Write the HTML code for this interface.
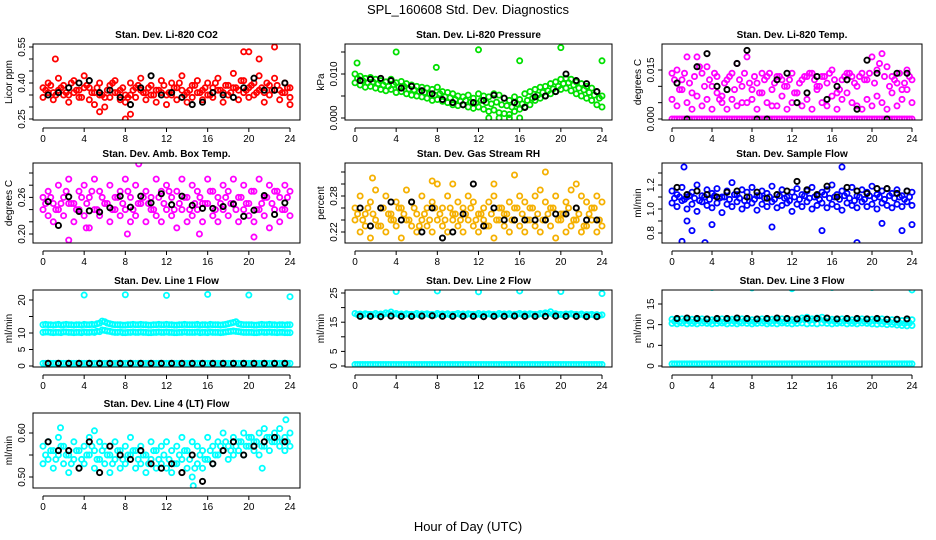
<!DOCTYPE html>
<html><head><meta charset="utf-8"><style>
html,body{margin:0;padding:0;background:#fff;}
svg{display:block;font-family:"Liberation Sans",sans-serif;}
</style></head><body>
<svg id="chart" width="936" height="540" viewBox="0 0 936 540" xmlns="http://www.w3.org/2000/svg">
<rect width="936" height="540" fill="#fff"/>
<text x="468" y="14" text-anchor="middle" font-size="13">SPL_160608  Std. Dev. Diagnostics</text>
<text x="468" y="531" text-anchor="middle" font-size="13">Hour of Day (UTC)</text>
</svg>
<script>
const hoursHalf=[0,0.5,1,1.5,2,2.5,3,3.5,4,4.5,5,5.5,6,6.5,7,7.5,8,8.5,9,9.5,10,10.5,11,11.5,12,12.5,13,13.5,14,14.5,15,15.5,16,16.5,17,17.5,18,18.5,19,19.5,20,20.5,21,21.5,22,22.5,23,23.5,24];
const hoursOff=[0.25,0.75,1.25,1.75,2.25,2.75,3.25,3.75,4.25,4.75,5.25,5.75,6.25,6.75,7.25,7.75,8.25,8.75,9.25,9.75,10.25,10.75,11.25,11.75,12.25,12.75,13.25,13.75,14.25,14.75,15.25,15.75,16.25,16.75,17.25,17.75,18.25,18.75,19.25,19.75,20.25,20.75,21.25,21.75,22.25,22.75,23.25,23.75];
const hoursBlack=[0.5,1.5,2.5,3.5,4.5,5.5,6.5,7.5,8.5,9.5,10.5,11.5,12.5,13.5,14.5,15.5,16.5,17.5,18.5,19.5,20.5,21.5,22.5,23.5];
const outHours=[4,8,12,16,20,24];
const xTicks=[0,4,8,12,16,20,24];

const co2Hi=[.38,.40,.36,.42,.39,.35,.41,.37,.43,.38,.36,.40,.34,.39,.41,.37,.35,.40,.38,.42,.36,.39,.37,.41,.35,.40,.38,.43,.36,.39,.41,.37,.40,.38,.42,.36,.39,.44,.37,.41,.38,.40,.43,.36,.39,.42,.37,.40,.38];
const co2Lo=[.34,.36,.33,.37,.35,.32,.36,.34,.38,.33,.31,.35,.30,.34,.36,.33,.32,.35,.34,.37,.33,.35,.32,.36,.31,.35,.33,.37,.32,.34,.36,.33,.35,.34,.37,.32,.35,.38,.33,.36,.34,.35,.37,.32,.35,.37,.33,.36,.34];
const co2Mid=[.37,.39,.35,.38,.36,.40,.37,.34,.39,.36,.38,.35,.37,.40,.36,.38,.34,.37,.39,.36,.38,.35,.37,.39,.36,.38,.40,.35,.37,.39,.36,.38,.35,.40,.37,.39,.36,.38,.41,.37,.39,.36,.38,.40,.37,.39,.36,.38];
const co2OutH=[1.2,5.5,8,8.5,19.5,20,21,22.5,24];
const co2OutV=[.50,.28,.25,.27,.53,.53,.50,.55,.31];
const co2Black=[.35,.36,.38,.40,.41,.36,.37,.34,.31,.38,.43,.35,.36,.34,.31,.32,.36,.35,.34,.38,.42,.37,.37,.40];

const presHi=[.0100,.0095,.0090,.0092,.0088,.0085,.0082,.0088,.0080,.0083,.0078,.0075,.0072,.0070,.0068,.0065,.0070,.0060,.0058,.0055,.0050,.0048,.0052,.0045,.0055,.0050,.0048,.0055,.0052,.0045,.0040,.0048,.0042,.0055,.0060,.0065,.0070,.0072,.0078,.0082,.0088,.0090,.0088,.0082,.0078,.0072,.0068,.0060,.0050];
const presLo=[.0080,.0075,.0070,.0072,.0068,.0065,.0062,.0065,.0058,.0060,.0055,.0052,.0050,.0048,.0045,.0040,.0042,.0038,.0035,.0030,.0028,.0030,.0025,.0022,.0025,.0020,.0015,.0018,.0012,.0010,.0008,.0015,.0020,.0025,.0030,.0040,.0045,.0050,.0055,.0060,.0065,.0068,.0062,.0055,.0050,.0045,.0040,.0030,.0025];
const presMid=[.0090,.0085,.0080,.0082,.0078,.0075,.0072,.0076,.0070,.0072,.0066,.0064,.0060,.0058,.0055,.0052,.0055,.0048,.0046,.0042,.0038,.0040,.0036,.0034,.0040,.0035,.0032,.0036,.0030,.0028,.0025,.0032,.0032,.0040,.0045,.0052,.0058,.0062,.0066,.0072,.0078,.0080,.0075,.0068,.0064,.0058,.0052,.0045];
const presOutH=[0.2,4,7.9,12,13,14,15,16,16,20,24];
const presOutV=[.0125,.0150,.0115,.0155,.0000,.0000,.0000,.0000,.0130,.0160,.0130];
const presBlack=[.0085,.0088,.0090,.0085,.0068,.0072,.0062,.0055,.0042,.0035,.0030,.0035,.0040,.0052,.0045,.0035,.0024,.0048,.0050,.0060,.0100,.0085,.0078,.0060];

const tempHi=[.014,.015,.012,.019,.008,.019,.014,.016,.010,.013,.007,.012,.014,.017,.005,.019,.009,.011,.014,.013,.004,.013,.012,.010,.014,.008,.012,.013,.014,.010,.013,.011,.015,.008,.012,.014,.013,.010,.014,.012,.019,.015,.020,.016,.013,.011,.009,.015,.012];
const tempLo=[.006,.004,.009,.005,.003,.007,.004,.006,.003,.008,.005,.003,.006,.004,.010,.005,.006,.003,.008,.005,.009,.004,.007,.003,.005,.008,.004,.006,.003,.009,.005,.004,.007,.003,.006,.008,.005,.004,.003,.006,.004,.007,.005,.003,.008,.004,.006,.009,.005];
const tempMid=[.012,.009,.014,.011,.013,.016,.010,.012,.014,.006,.011,.013,.009,.012,.014,.011,.013,.008,.012,.014,.011,.013,.010,.012,.008,.011,.013,.014,.012,.010,.013,.014,.012,.009,.013,.014,.011,.013,.012,.014,.011,.017,.013,.010,.012,.014,.011,.013];
const tempZero=[0,0,0,0,0,0,0,0,0,0,0,0,0,0,0,0,0,0,0,0,0,0,0,0,0,0,0,0,0,0,0,0,0,0,0,0,0,0,0,0,0,0,0,0,0,0,0,0,0];
const tempZeroOff=[0,0,0,0,0,0,0,0,0,0,0,0,0,0,0,0,0,0,0,0,0,0,0,0,0,0,0,0,0,0,0,0,0,0,0,0,0,0,0,0,0,0,0,0,0,0,0,0];
const tempBlack=[.011,0,.016,.020,.010,.009,.017,.021,0,0,.012,.014,.005,.008,.013,.006,.010,.012,.003,.018,.014,0,.014,.014];

const ambHi=[.26,.27,.25,.28,.26,.29,.25,.27,.28,.26,.29,.27,.25,.28,.26,.27,.29,.26,.28,.25,.27,.26,.29,.27,.28,.26,.27,.29,.26,.28,.27,.25,.29,.27,.26,.28,.27,.29,.26,.28,.25,.27,.29,.26,.28,.27,.26,.28,.27];
const ambLo=[.24,.23,.22,.24,.23,.25,.22,.24,.23,.21,.24,.23,.25,.22,.24,.23,.24,.22,.23,.25,.22,.24,.23,.22,.24,.23,.21,.24,.22,.23,.24,.22,.25,.23,.22,.24,.23,.25,.22,.24,.23,.22,.24,.23,.21,.24,.22,.24,.23];
const ambMid=[.25,.26,.24,.25,.27,.25,.24,.26,.25,.27,.24,.26,.25,.24,.26,.25,.27,.24,.25,.26,.25,.24,.26,.25,.27,.24,.25,.26,.24,.25,.26,.25,.27,.24,.25,.26,.25,.24,.26,.25,.27,.24,.25,.26,.25,.27,.24,.26];
const ambOutH=[2.5,4.2,8.2,9.3,20.5,15.2];
const ambOutV=[.19,.21,.20,.315,.195,.20];
const ambBlack=[.253,.214,.261,.237,.238,.236,.243,.262,.244,.262,.251,.266,.248,.262,.247,.242,.242,.245,.249,.229,.239,.263,.232,.251];

const rhHi=[.26,.28,.25,.27,.29,.26,.28,.25,.27,.26,.29,.27,.25,.28,.26,.27,.30,.26,.28,.25,.27,.26,.28,.27,.25,.26,.27,.28,.26,.25,.27,.26,.28,.27,.26,.28,.29,.27,.26,.28,.25,.27,.29,.26,.28,.27,.26,.28,.27];
const rhLo=[.24,.22,.23,.21,.24,.23,.22,.24,.23,.21,.24,.23,.22,.24,.23,.22,.24,.23,.22,.24,.23,.22,.24,.23,.22,.24,.23,.21,.24,.23,.22,.24,.23,.22,.24,.23,.22,.24,.23,.21,.24,.22,.23,.24,.22,.23,.24,.22,.23];
const rhMid=[.25,.24,.26,.25,.23,.26,.25,.24,.26,.25,.24,.26,.23,.25,.24,.26,.25,.24,.26,.25,.24,.25,.26,.24,.25,.23,.25,.24,.26,.25,.24,.26,.25,.24,.26,.25,.24,.25,.26,.24,.25,.26,.24,.25,.23,.25,.26,.24];
const rhOutH=[1.7,7.5,9.5,13.5,15.5,18.5,21.5];
const rhOutV=[.31,.305,.30,.30,.315,.32,.30];
const rhBlack=[.26,.23,.26,.27,.24,.27,.22,.26,.21,.22,.25,.30,.23,.26,.24,.24,.24,.24,.24,.25,.25,.26,.24,.24];

const sfHi=[1.15,1.12,1.18,1.10,1.14,1.20,1.11,1.16,1.13,1.17,1.10,1.15,1.22,1.12,1.16,1.14,1.18,1.11,1.15,1.13,1.19,1.12,1.16,1.10,1.14,1.17,1.12,1.15,1.18,1.11,1.14,1.16,1.20,1.12,1.15,1.13,1.18,1.11,1.16,1.14,1.19,1.12,1.15,1.17,1.13,1.16,1.11,1.15,1.14];
const sfLo=[1.05,1.02,1.07,1.00,1.04,0.98,1.06,1.03,1.01,1.05,0.97,1.04,1.02,1.06,1.00,1.03,1.05,0.99,1.04,1.02,1.06,1.01,1.03,1.05,0.98,1.04,1.02,1.06,1.00,1.03,1.05,1.01,1.04,1.02,0.99,1.05,1.03,1.01,1.06,1.02,1.04,1.00,1.05,1.03,1.01,1.04,1.02,1.06,1.03];
const sfMid=[1.09,1.10,1.08,1.11,1.09,1.07,1.10,1.08,1.11,1.09,1.10,1.08,1.12,1.09,1.07,1.10,1.08,1.11,1.09,1.10,1.08,1.11,1.09,1.07,1.10,1.08,1.11,1.09,1.10,1.08,1.12,1.09,1.10,1.08,1.11,1.09,1.07,1.10,1.08,1.11,1.09,1.10,1.08,1.11,1.09,1.10,1.08,1.10];
const sfOutH=[1,3.3,2,4,1.5,1.2,17,18.5,21,23,24,15,10];
const sfOutV=[0.73,0.72,0.82,0.87,0.90,1.35,1.35,0.72,0.88,0.82,0.87,0.82,0.85];
const sfBlack=[1.18,1.12,1.15,1.12,1.10,1.14,1.15,1.10,1.14,1.09,1.12,1.15,1.23,1.16,1.12,1.19,1.10,1.18,1.15,1.13,1.17,1.17,1.13,1.15];

const l1Hi=[12.5,12.5,12.4,12.6,12.5,12.5,12.4,12.5,12.6,12.5,12.5,13.0,13.4,12.8,12.5,12.5,12.4,12.5,12.5,12.6,12.5,12.4,12.5,12.5,12.6,12.5,12.4,12.5,12.5,12.5,12.6,12.5,12.4,12.5,12.5,12.5,12.8,13.2,12.8,12.5,12.5,12.4,12.5,12.5,12.6,12.5,12.5,12.4,12.5];
const l1HiOff=[12.6,12.5,12.5,12.4,12.6,12.5,12.5,12.4,12.5,12.6,12.8,13.6,13.0,12.6,12.5,12.4,12.5,12.6,12.5,12.5,12.4,12.5,12.6,12.5,12.5,12.4,12.5,12.6,12.5,12.5,12.4,12.5,12.6,12.5,12.4,12.6,13.0,13.4,12.6,12.5,12.5,12.4,12.6,12.5,12.5,12.4,12.5,12.5];
const l1Lo=[10.2,10.3,10.1,10.2,10.3,10.2,10.1,10.2,10.3,10.2,10.2,10.4,10.8,10.5,10.2,10.3,10.1,10.2,10.2,10.3,10.2,10.1,10.2,10.2,10.3,10.2,10.1,10.2,10.2,10.2,10.3,10.2,10.1,10.2,10.2,10.2,10.4,10.6,10.4,10.2,10.2,10.1,10.2,10.2,10.3,10.2,10.2,10.1,10.1];
const l1LoOff=[10.3,10.2,10.2,10.1,10.3,10.2,10.2,10.1,10.2,10.3,10.5,10.9,10.6,10.3,10.2,10.1,10.2,10.3,10.2,10.2,10.1,10.2,10.3,10.2,10.2,10.1,10.2,10.3,10.2,10.2,10.1,10.2,10.3,10.2,10.1,10.3,10.5,10.5,10.3,10.2,10.2,10.1,10.3,10.2,10.2,10.1,10.2,10.1];
const l1Zero=[0.8,0.8,0.8,0.8,0.8,0.8,0.8,0.8,0.8,0.8,0.8,0.8,0.8,0.8,0.8,0.8,0.8,0.8,0.8,0.8,0.8,0.8,0.8,0.8,0.8,0.8,0.8,0.8,0.8,0.8,0.8,0.8,0.8,0.8,0.8,0.8,0.8,0.8,0.8,0.8,0.8,0.8,0.8,0.8,0.8,0.8,0.8,0.8,0.8];
const l1ZeroOff=[0.8,0.8,0.8,0.8,0.8,0.8,0.8,0.8,0.8,0.8,0.8,0.8,0.8,0.8,0.8,0.8,0.8,0.8,0.8,0.8,0.8,0.8,0.8,0.8,0.8,0.8,0.8,0.8,0.8,0.8,0.8,0.8,0.8,0.8,0.8,0.8,0.8,0.8,0.8,0.8,0.8,0.8,0.8,0.8,0.8,0.8,0.8,0.8];
const l1Black=[0.8,0.8,0.8,0.8,0.8,0.8,0.8,0.8,0.8,0.8,0.8,0.8,0.8,0.8,0.8,0.8,0.8,0.8,0.8,0.8,0.8,0.8,0.8,0.8];
const l1Out=[21.5,21.6,21.4,21.7,21.5,21.0];

const l2Hi=[18.0,17.8,17.9,17.7,18.0,17.8,18.2,18.5,18.0,17.8,17.9,17.7,18.0,17.8,17.9,17.7,18.0,17.8,17.9,17.7,18.0,17.8,17.9,17.7,18.0,17.8,17.9,17.7,18.0,17.8,17.9,17.7,18.0,17.8,17.9,17.7,18.0,18.2,18.6,17.9,17.7,17.8,17.9,17.7,17.8,17.6,17.7,17.6,17.5];
const l2HiOff=[17.6,17.5,17.7,17.6,17.5,17.7,17.9,17.8,17.6,17.5,17.7,17.6,17.5,17.7,17.6,17.5,17.7,17.6,17.5,17.7,17.6,17.5,17.7,17.6,17.5,17.7,17.6,17.5,17.7,17.6,17.5,17.7,17.6,17.5,17.7,17.6,17.8,18.0,17.7,17.6,17.5,17.7,17.6,17.5,17.4,17.5,17.4,17.3];
const l2Zero=[0.5,0.5,0.5,0.5,0.5,0.5,0.5,0.5,0.5,0.5,0.5,0.5,0.5,0.5,0.5,0.5,0.5,0.5,0.5,0.5,0.5,0.5,0.5,0.5,0.5,0.5,0.5,0.5,0.5,0.5,0.5,0.5,0.5,0.5,0.5,0.5,0.5,0.5,0.5,0.5,0.5,0.5,0.5,0.5,0.5,0.5,0.5,0.5,0.5];
const l2ZeroOff=[0.5,0.5,0.5,0.5,0.5,0.5,0.5,0.5,0.5,0.5,0.5,0.5,0.5,0.5,0.5,0.5,0.5,0.5,0.5,0.5,0.5,0.5,0.5,0.5,0.5,0.5,0.5,0.5,0.5,0.5,0.5,0.5,0.5,0.5,0.5,0.5,0.5,0.5,0.5,0.5,0.5,0.5,0.5,0.5,0.5,0.5,0.5,0.5];
const l2Black=[17.0,17.0,16.9,17.1,17.0,17.0,17.1,17.2,17.0,17.0,17.0,17.0,16.9,17.0,17.0,17.1,17.0,17.0,17.0,17.1,17.0,17.0,16.9,16.9];
const l2Out=[25.5,25.7,25.4,25.7,25.5,24.8];

const l3Hi=[11.3,11.2,11.4,11.2,11.3,11.2,11.4,11.3,11.2,11.3,11.4,11.2,11.3,11.2,11.4,11.3,11.2,11.3,11.4,11.2,11.3,11.2,11.4,11.3,11.2,11.3,11.6,11.8,11.4,11.6,11.8,11.5,11.3,11.2,11.4,11.3,11.2,11.3,11.4,11.2,11.3,11.2,11.4,11.3,11.2,11.1,11.0,11.0,11.2];
const l3Lo=[10.3,10.2,10.4,10.2,10.3,10.2,10.4,10.3,10.2,10.3,10.4,10.2,10.3,10.2,10.4,10.3,10.2,10.3,10.4,10.2,10.3,10.2,10.4,10.3,10.2,10.3,10.4,10.2,10.3,10.2,10.4,10.3,10.2,10.3,10.4,10.2,10.3,10.2,10.4,10.3,10.2,10.1,10.2,10.0,10.1,9.9,9.8,9.7,9.8];
const l3HiOff=[10.8,10.7,10.9,10.8,10.7,10.9,10.8,10.7,10.9,10.8,10.7,10.9,10.8,10.7,10.9,10.8,10.7,10.9,10.8,10.7,10.9,10.8,10.7,10.9,10.8,11.0,11.2,11.0,11.1,11.3,11.0,10.9,10.8,10.7,10.9,10.8,10.7,10.9,10.8,10.7,10.9,10.8,10.7,10.6,10.5,10.4,10.3,10.4];
const l3Zero=[0.5,0.5,0.5,0.5,0.5,0.5,0.5,0.5,0.5,0.5,0.5,0.5,0.5,0.5,0.5,0.5,0.5,0.5,0.5,0.5,0.5,0.5,0.5,0.5,0.5,0.5,0.5,0.5,0.5,0.5,0.5,0.5,0.5,0.5,0.5,0.5,0.5,0.5,0.5,0.5,0.5,0.5,0.5,0.5,0.5,0.5,0.5,0.5,0.5];
const l3ZeroOff=[0.5,0.5,0.5,0.5,0.5,0.5,0.5,0.5,0.5,0.5,0.5,0.5,0.5,0.5,0.5,0.5,0.5,0.5,0.5,0.5,0.5,0.5,0.5,0.5,0.5,0.5,0.5,0.5,0.5,0.5,0.5,0.5,0.5,0.5,0.5,0.5,0.5,0.5,0.5,0.5,0.5,0.5,0.5,0.5,0.5,0.5,0.5,0.5];
const l3Black=[11.5,11.6,11.5,11.4,11.5,11.5,11.6,11.5,11.4,11.5,11.6,11.5,11.4,11.5,11.5,11.6,11.4,11.5,11.5,11.4,11.5,11.3,11.3,11.4];
const l3Out=[19.0,18.9,18.7,19.0,19.0,18.4];

const l4Hi=[.57,.58,.56,.59,.57,.55,.58,.56,.57,.59,.56,.58,.57,.55,.58,.56,.57,.59,.56,.57,.55,.58,.56,.57,.58,.56,.57,.59,.56,.58,.57,.56,.59,.57,.58,.60,.57,.59,.58,.60,.59,.58,.60,.61,.59,.60,.61,.59,.60];
const l4Lo=[.53,.54,.52,.55,.53,.51,.54,.52,.53,.55,.52,.54,.53,.51,.54,.52,.53,.55,.52,.53,.51,.54,.52,.53,.52,.51,.53,.54,.52,.50,.53,.52,.54,.53,.55,.56,.54,.55,.56,.55,.57,.56,.55,.57,.56,.58,.57,.56,.57];
const l4Mid=[.55,.56,.54,.57,.55,.53,.56,.54,.55,.57,.54,.56,.55,.53,.56,.54,.55,.56,.54,.55,.53,.56,.54,.55,.54,.53,.55,.56,.54,.52,.55,.54,.56,.55,.57,.58,.56,.57,.58,.57,.59,.58,.57,.59,.58,.59,.58,.58];
const l4OutH=[1.7,5,14.6,21.3,23.6];
const l4OutV=[.612,.605,.48,.52,.63];
const l4Black=[.58,.56,.56,.52,.58,.51,.57,.55,.54,.56,.53,.52,.53,.51,.55,.49,.53,.56,.58,.55,.57,.58,.59,.58];

const NS='http://www.w3.org/2000/svg';
const svg=document.getElementById('chart');
function mk(tag,attrs,parent){const e=document.createElementNS(NS,tag);for(const k in attrs)e.setAttribute(k,attrs[k]);parent.appendChild(e);return e;}

const colL=[33,345,662], colW=[267,267,260];
const rowT=[44,163,290,413], rowB=[120,243,367,488];

const panels=[
 {name:'co2',title:'Stan. Dev. Li-820 CO2',ylab:'Licor ppm',c:0,r:0,cal:[.25,119,.55,47],ticks:[.25,.30,.35,.40,.45,.50,.55],labs:{'0.25':'0.25','0.4':'0.40','0.55':'0.55'},col:'#ff0000',series:[[hoursHalf,co2Hi],[hoursHalf,co2Lo],[hoursOff,co2Mid],[co2OutH,co2OutV]],black:co2Black},
 {name:'pressure',title:'Stan. Dev. Li-820 Pressure',ylab:'kPa',c:1,r:0,cal:[0,118,.010,74],ticks:[0,.005,.010,.015],labs:{'0':'0.000','0.01':'0.010'},col:'#00e000',series:[[hoursHalf,presHi],[hoursHalf,presLo],[hoursOff,presMid],[presOutH,presOutV]],black:presBlack},
 {name:'temp',title:'Stan. Dev. Li-820 Temp.',ylab:'degrees C',c:2,r:0,cal:[0,119,.015,70],ticks:[0,.005,.010,.015],labs:{'0':'0.000','0.015':'0.015'},col:'#ff00ff',series:[[hoursHalf,tempHi],[hoursHalf,tempLo],[hoursOff,tempMid],[hoursHalf,tempZero],[hoursOff,tempZeroOff]],black:tempBlack},
 {name:'amb-box-temp',title:'Stan. Dev. Amb. Box Temp.',ylab:'degrees C',c:0,r:1,cal:[.20,234,.30,173],ticks:[.20,.22,.24,.26,.28,.30],labs:{'0.2':'0.20','0.26':'0.26'},col:'#ff00ff',series:[[hoursHalf,ambHi],[hoursHalf,ambLo],[hoursOff,ambMid],[ambOutH,ambOutV]],black:ambBlack},
 {name:'gas-rh',title:'Stan. Dev. Gas Stream RH',ylab:'percent',c:1,r:1,cal:[.22,232,.28,196],ticks:[.22,.24,.26,.28,.30,.32],labs:{'0.22':'0.22','0.28':'0.28'},col:'#f5b000',series:[[hoursHalf,rhHi],[hoursHalf,rhLo],[hoursOff,rhMid],[rhOutH,rhOutV]],black:rhBlack},
 {name:'sample-flow',title:'Stan. Dev. Sample Flow',ylab:'ml/min',c:2,r:1,cal:[0.8,233,1.2,185],ticks:[0.8,0.9,1.0,1.1,1.2,1.3],labs:{'0.8':'0.8','1':'1.0','1.2':'1.2'},col:'#0000ff',series:[[hoursHalf,sfHi],[hoursHalf,sfLo],[hoursOff,sfMid],[sfOutH,sfOutV]],black:sfBlack},
 {name:'line1-flow',title:'Stan. Dev. Line 1 Flow',ylab:'ml/min',c:0,r:2,cal:[0,366,20,300],ticks:[0,5,10,15,20],labs:{'0':'0','5':'5','10':'10','20':'20'},col:'#00ffff',series:[[hoursHalf,l1Hi],[hoursOff,l1HiOff],[hoursHalf,l1Lo],[hoursOff,l1LoOff],[hoursHalf,l1Zero],[hoursOff,l1ZeroOff],[outHours,l1Out]],black:l1Black},
 {name:'line2-flow',title:'Stan. Dev. Line 2 Flow',ylab:'ml/min',c:1,r:2,cal:[0,366,25,293],ticks:[0,5,10,15,20,25],labs:{'0':'0','5':'5','15':'15','25':'25'},col:'#00ffff',series:[[hoursHalf,l2Hi],[hoursOff,l2HiOff],[hoursHalf,l2Zero],[hoursOff,l2ZeroOff],[outHours,l2Out]],black:l2Black},
 {name:'line3-flow',title:'Stan. Dev. Line 3 Flow',ylab:'ml/min',c:2,r:2,cal:[0,366,15,304],ticks:[0,5,10,15],labs:{'0':'0','5':'5','10':'10','15':'15'},col:'#00ffff',series:[[hoursHalf,l3Hi],[hoursHalf,l3Lo],[hoursOff,l3HiOff],[hoursHalf,l3Zero],[hoursOff,l3ZeroOff],[outHours,l3Out]],black:l3Black},
 {name:'line4-flow',title:'Stan. Dev. Line 4 (LT) Flow',ylab:'ml/min',c:0,r:3,cal:[.50,477,.60,433],ticks:[.50,.55,.60],labs:{'0.5':'0.50','0.6':'0.60'},col:'#00ffff',series:[[hoursHalf,l4Hi],[hoursHalf,l4Lo],[hoursOff,l4Mid],[l4OutH,l4OutV]],black:l4Black}
];

panels.forEach(p=>{
  const L=colL[p.c],W=colW[p.c],T=rowT[p.r],B=rowB[p.r];
  const g=mk('g',{},svg);
  
  
  const xs=h=>L+10+h/24*(W-20);
  const [va,pa,vb,pb]=p.cal;
  const ys=v=>pa+(v-va)*(pb-pa)/(vb-va);
  const t=mk('text',{x:L+W/2,y:T-6,'text-anchor':'middle','font-size':'10','font-weight':'bold'},g);
  
  
  t.textContent=p.title;
  const ax=mk('g',{},g);
  
  
  mk('line',{x1:xs(0),x2:xs(24),y1:B+8,y2:B+8,stroke:'#000','stroke-width':1},ax);
  xTicks.forEach(h=>{
    mk('line',{x1:xs(h),x2:xs(h),y1:B+8,y2:B+12,stroke:'#000'},ax);
    const tx=mk('text',{x:xs(h),y:B+22,'text-anchor':'middle','font-size':'10'},ax);
    tx.textContent=h;
  });
  const ay=mk('g',{},g);
  
  
  mk('line',{x1:L,x2:L,y1:ys(p.ticks[0]),y2:ys(p.ticks[p.ticks.length-1]),stroke:'#000'},ay);
  p.ticks.forEach(v=>{
    const y=ys(v);
    mk('line',{x1:L-4,x2:L,y1:y,y2:y,stroke:'#000'},ay);
    const key=String(+v.toFixed(4));
    if(p.labs[key]!==undefined){
      const tx=mk('text',{x:L-8,y:y,'text-anchor':'middle','font-size':'10',transform:`rotate(-90 ${L-8} ${y})`},ay);
      tx.textContent=p.labs[key];
    }
  });
  const yl=mk('text',{x:L-21,y:(T+B)/2,'text-anchor':'middle','font-size':'10',transform:`rotate(-90 ${L-21} ${(T+B)/2})`},g);
  
  
  yl.textContent=p.ylab;
  const clipId='clip-'+p.name;
  const cp=mk('clipPath',{id:clipId},g);
  mk('rect',{x:L,y:T,width:W,height:B-T},cp);
  const pts=mk('g',{'clip-path':`url(#${clipId})`},g);
  
  
  p.series.forEach(([hs,vs])=>{
    vs.forEach((v,i)=>{
      const c=mk('circle',{cx:xs(hs[i]),cy:ys(v),r:2.6,fill:'none',stroke:p.col,'stroke-width':1.8},pts);
      
      
    });
  });
  p.black.forEach((v,i)=>{
    const c=mk('circle',{cx:xs(hoursBlack[i]),cy:ys(v),r:2.6,fill:'none',stroke:'#000','stroke-width':1.9},pts);
    
    
  });
  const box=mk('rect',{x:L,y:T,width:W,height:B-T,fill:'none',stroke:'#000','stroke-width':1},g);
  
  
});
</script>
</body></html>
